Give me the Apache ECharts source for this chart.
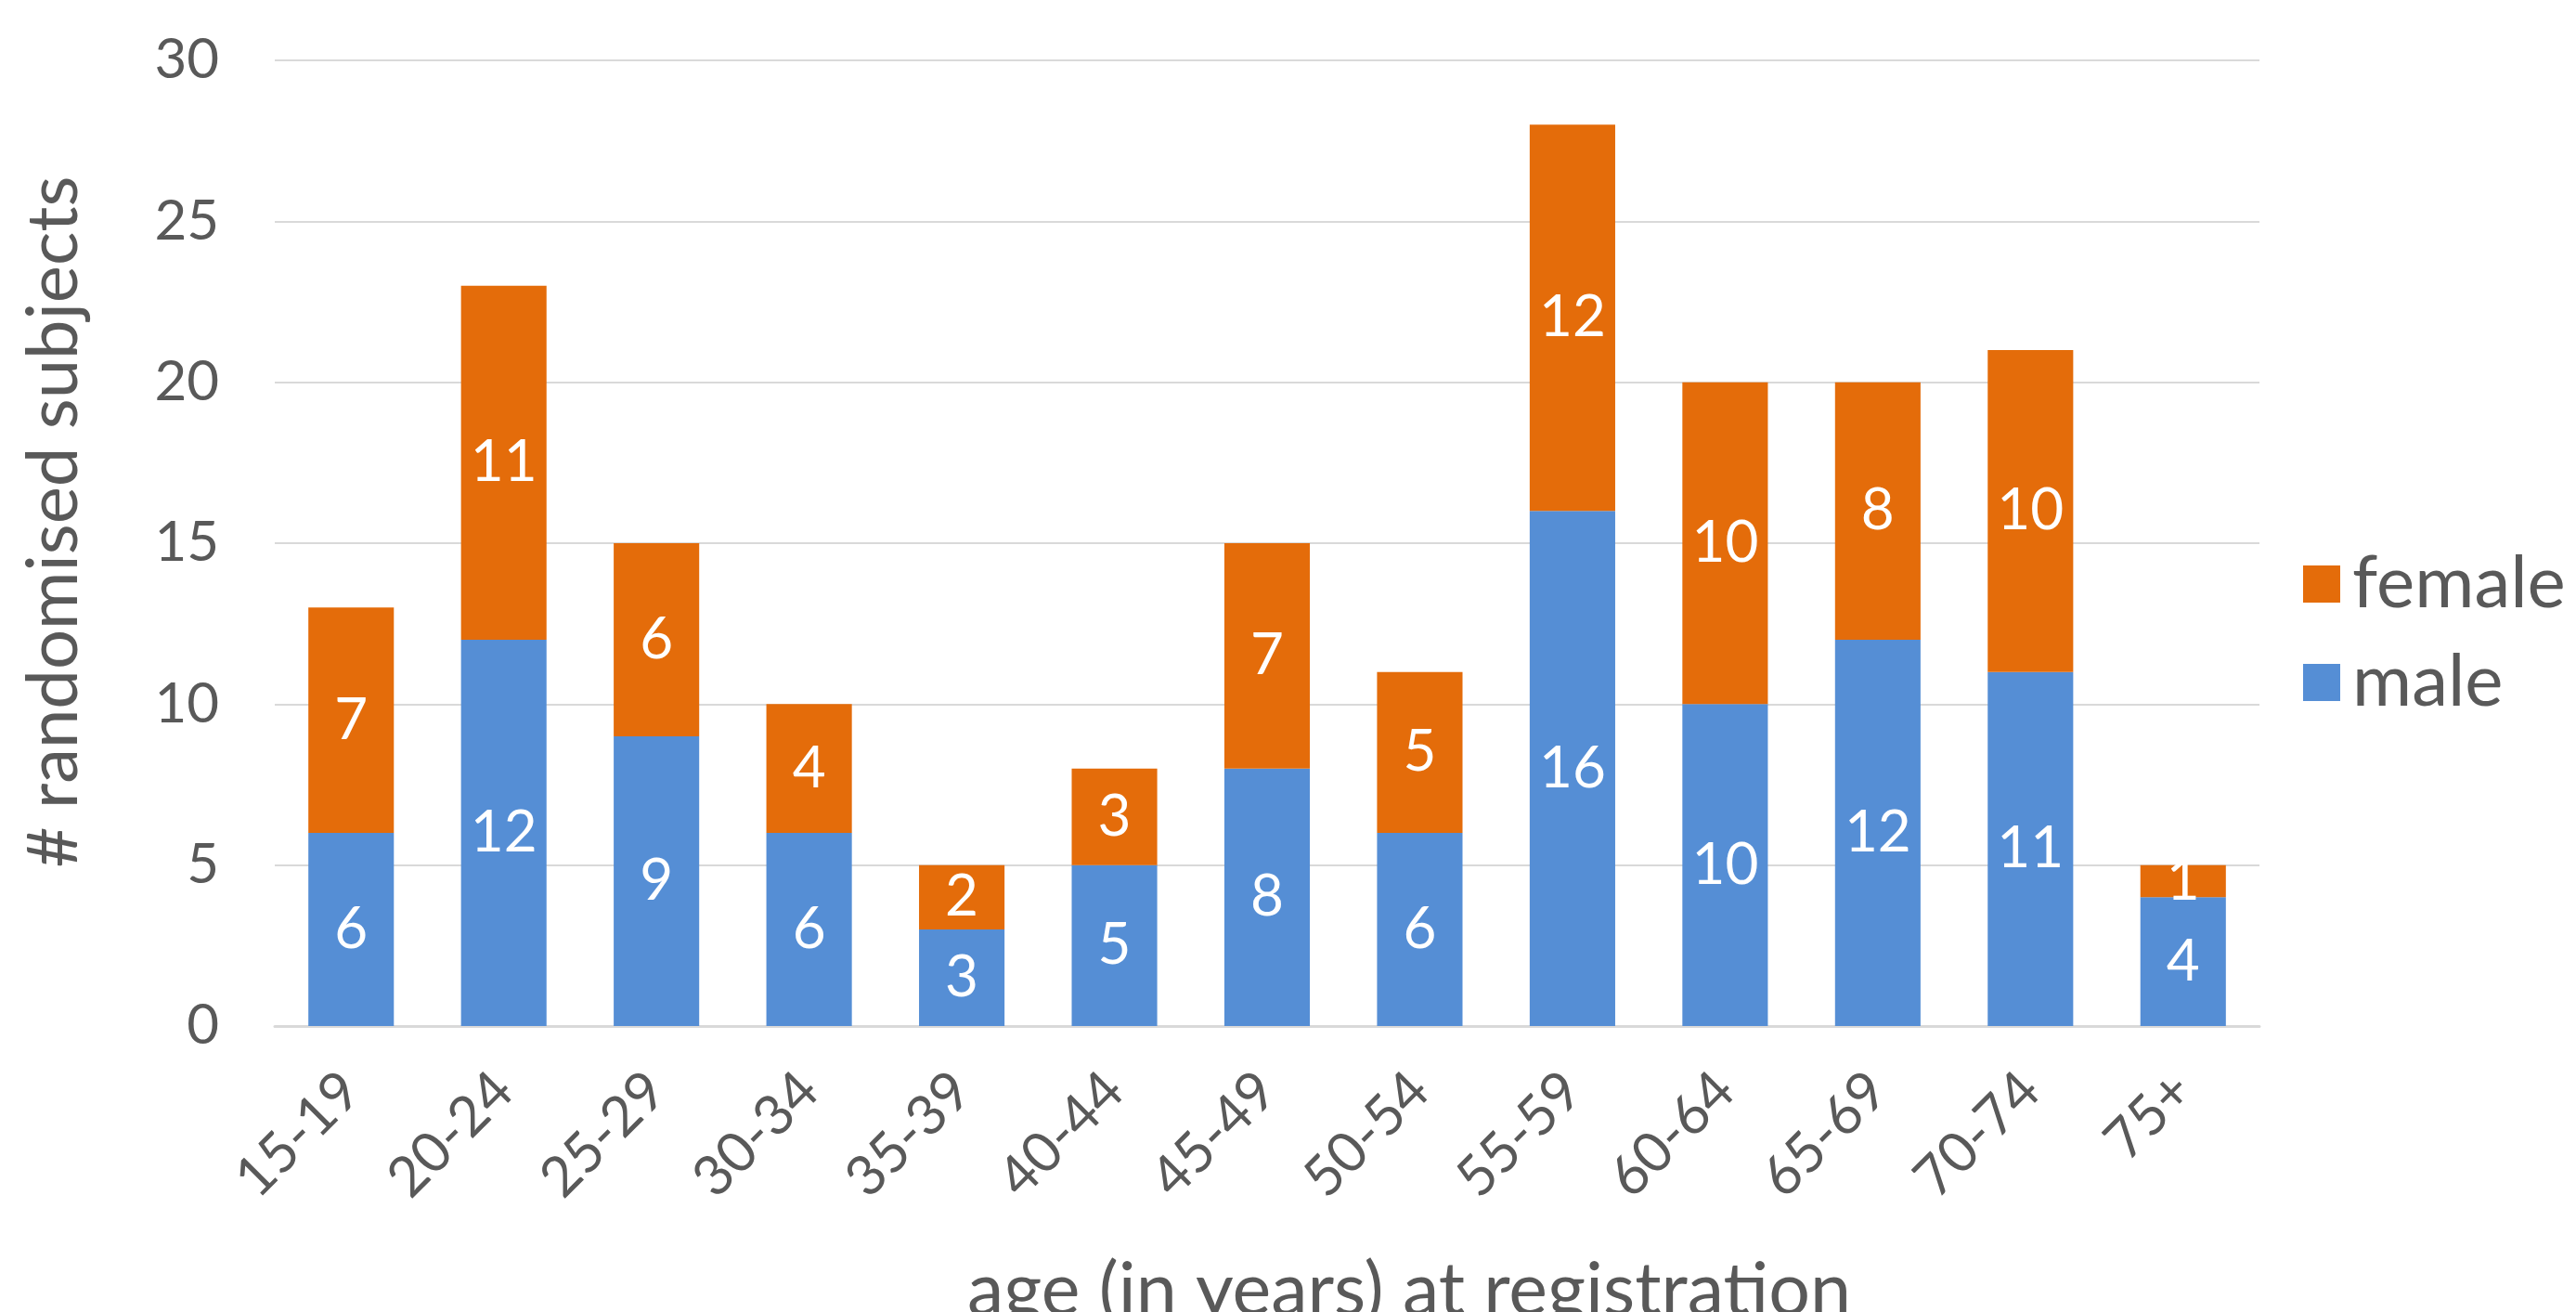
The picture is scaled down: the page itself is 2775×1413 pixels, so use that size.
<!DOCTYPE html>
<html>
<head>
<meta charset="utf-8">
<script src="https://cdn.jsdelivr.net/npm/echarts@6/dist/echarts.min.js"></script>
<style>
  html, body { margin: 0; padding: 0; background: #fff; }
  #chart { width: 2775px; height: 1413px; }
</style>
</head>
<body>
<div id="chart"></div>
<script>
// age bands at registration
const ageGroups = ['15-19', '20-24', '25-29', '30-34', '35-39', '40-44', '45-49',
  '50-54', '55-59', '60-64', '65-69', '70-74', '75+']
const maleCounts = [6, 12, 9, 6, 3, 5, 8, 6, 16, 10, 12, 11, 4]
const femaleCounts = [7, 11, 6, 4, 2, 3, 7, 5, 12, 10, 8, 10, 1]

const FONT = 'Lato'
const GREY = '#595959'

const chart = echarts.init(document.getElementById('chart'))

const barLabel = {
  show: true,
  position: 'inside',
  color: '#fff',
  fontFamily: FONT,
  fontSize: 62,
}

chart.setOption({
  backgroundColor: '#fff',
  animation: false,
  textStyle: { fontFamily: FONT, color: GREY },
  grid: {
    left: 296,
    right: 341,
    top: 65,
    bottom: 308,
    containLabel: false,
    outerBoundsMode: 'none',
  },
  legend: {
    data: ['female', 'male'],
    orient: 'vertical',
    left: 2476,
    top: 585,
    icon: 'rect',
    itemWidth: 40,
    itemHeight: 40,
    itemGap: 28,
    textStyle: {
      fontFamily: FONT,
      fontSize: 78,
      color: GREY,
      lineHeight: 76,
      padding: [0, 0, 0, 8],
    },
  },
  xAxis: {
    type: 'category',
    data: ageGroups,
    axisLine: { show: true, lineStyle: { color: '#D9D9D9', width: 3 } },
    axisTick: { show: false },
    axisLabel: {
      rotate: 45,
      margin: 60,
      fontSize: 60,
      color: GREY,
      fontFamily: FONT,
    },
    name: 'age (in years) at registration',
    nameLocation: 'middle',
    nameGap: 246,
    nameTextStyle: {
      fontSize: 79,
      color: GREY,
      fontFamily: FONT,
      padding: [0, 0, 0, 306],
    },
  },
  yAxis: {
    type: 'value',
    min: 0,
    max: 30,
    interval: 5,
    axisLine: { show: false },
    axisTick: { show: false },
    splitLine: { lineStyle: { color: '#D9D9D9', width: 2 } },
    axisLabel: {
      margin: 60,
      fontSize: 60,
      color: GREY,
      fontFamily: FONT,
    },
    name: '# randomised subjects',
    nameLocation: 'middle',
    nameGap: 200,
    nameTextStyle: {
      fontSize: 76,
      color: GREY,
      fontFamily: FONT,
      padding: [0, 0, 0, 46],
    },
  },
  series: [
    {
      name: 'male',
      type: 'bar',
      stack: 'sex',
      data: maleCounts,
      barCategoryGap: '44%',
      itemStyle: { color: '#558ED5' },
      label: barLabel,
    },
    {
      name: 'female',
      type: 'bar',
      stack: 'sex',
      data: femaleCounts,
      barCategoryGap: '44%',
      itemStyle: { color: '#E46C0A' },
      label: barLabel,
    },
  ],
})
</script>
</body>
</html>
